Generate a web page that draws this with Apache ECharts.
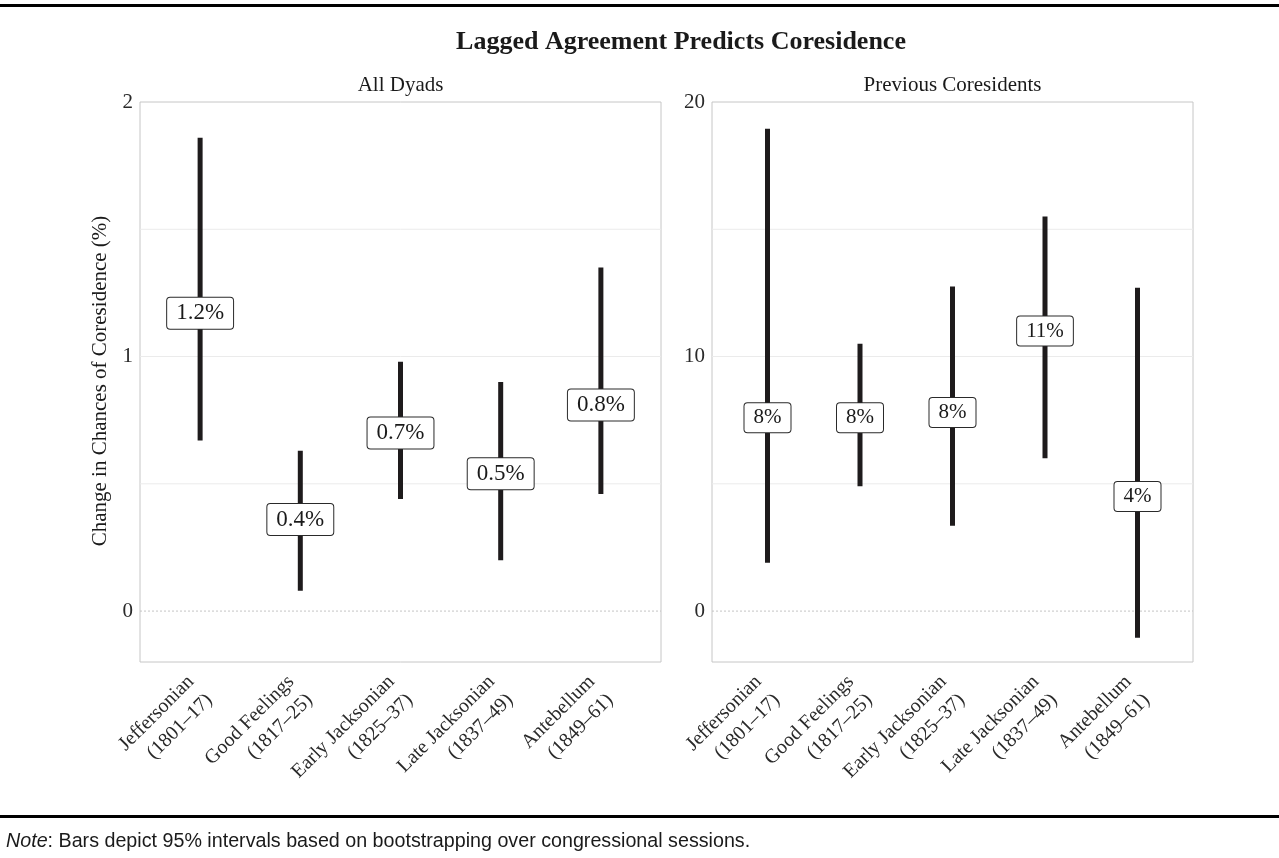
<!DOCTYPE html>
<html>
<head>
<meta charset="utf-8">
<script src="https://cdn.jsdelivr.net/npm/echarts@6/dist/echarts.min.js"></script>
<style>
html,body{margin:0;padding:0;background:#fff;}
#chart{width:1279px;height:858px;}
</style>
</head>
<body>
<div id="chart"></div>
<script>
// ---- data ----
const categories = ['Jeffersonian\n(1801–17)', 'Good Feelings\n(1817–25)', 'Early Jacksonian\n(1825–37)', 'Late Jacksonian\n(1837–49)', 'Antebellum\n(1849–61)'];
const catPos = [1, 2, 3, 4, 5];

const allEst = [1.17, 0.36, 0.70, 0.54, 0.81];
const allLow = [0.67, 0.08, 0.44, 0.20, 0.46];
const allHigh = [1.86, 0.63, 0.98, 0.90, 1.35];
const allLabels = ['1.2%', '0.4%', '0.7%', '0.5%', '0.8%'];

const prevEst = [7.6, 7.6, 7.8, 11.0, 4.5];
const prevLow = [1.9, 4.9, 3.35, 6.0, -1.05];
const prevHigh = [18.95, 10.5, 12.75, 15.5, 12.7];
const prevLabels = ['8%', '8%', '8%', '11%', '4%'];

const allTicks = [0, 1, 2];
const allGrid = [0.5, 1, 1.5];
const prevTicks = [0, 10, 20];
const prevGrid = [5, 10, 15];

const serif = 'Liberation Serif';
const chart = echarts.init(document.getElementById('chart'));

function xAxisDef(gi) {
  return {
    type: 'value', gridIndex: gi, min: 0.4, max: 5.6,
    axisLine: {show: false}, axisTick: {show: false}, splitLine: {show: false},
    axisLabel: {
      customValues: catPos,
      formatter: v => categories[Math.round(v) - 1],
      rotate: 45, align: 'right', verticalAlign: 'middle', margin: 26,
      fontFamily: serif, fontSize: 20, lineHeight: 26, color: '#2a2a2a'
    }
  };
}
function yAxisDef(gi, min, max, ticks) {
  return {
    type: 'value', gridIndex: gi, min: min, max: max,
    axisLine: {show: false}, axisTick: {show: false}, splitLine: {show: false},
    axisLabel: {customValues: ticks, margin: 7, fontFamily: serif, fontSize: 21, color: '#2a2a2a'}
  };
}
function gridSeries(gi, vals) {
  return {
    type: 'custom', xAxisIndex: gi, yAxisIndex: gi, z: 1, silent: true,
    data: vals.map(v => [v]),
    renderItem: (params, api) => {
      const v = api.value(0);
      const a = api.coord([0.4, v]), b = api.coord([5.6, v]);
      return {type: 'line', shape: {x1: a[0], y1: a[1], x2: b[0], y2: b[1]},
        style: {stroke: '#ebebeb', lineWidth: 1}};
    }
  };
}
function zeroSeries(gi) {
  return {
    type: 'custom', xAxisIndex: gi, yAxisIndex: gi, z: 1, silent: true,
    data: [[0]],
    renderItem: (params, api) => {
      const v = api.value(0);
      const a = api.coord([0.4, v]), b = api.coord([5.6, v]);
      return {type: 'line', shape: {x1: a[0], y1: a[1], x2: b[0], y2: b[1]},
        style: {stroke: '#c4c4c4', lineWidth: 1, lineDash: [2, 2]}};
    }
  };
}
function barSeries(gi, low, high) {
  return {
    type: 'custom', xAxisIndex: gi, yAxisIndex: gi, z: 2, silent: true,
    data: catPos.map((x, i) => [x, low[i], high[i]]),
    renderItem: (params, api) => {
      const x = api.value(0);
      const p1 = api.coord([x, api.value(1)]), p2 = api.coord([x, api.value(2)]);
      return {type: 'line', shape: {x1: p1[0], y1: p1[1], x2: p2[0], y2: p2[1]},
        style: {stroke: '#1e1b1c', lineWidth: 5}};
    }
  };
}
function labelSeries(gi, est, labels, fs) {
  return {
    type: 'custom', xAxisIndex: gi, yAxisIndex: gi, z: 3, silent: true,
    data: catPos.map((x, i) => [x, est[i]]),
    renderItem: (params, api) => {
      const p = api.coord([api.value(0), api.value(1)]);
      return {
        type: 'text', x: p[0], y: p[1], z2: 10,
        style: {
          text: labels[params.dataIndex],
          fontFamily: serif, fontSize: fs, lineHeight: fs, fill: '#1a1a1a',
          align: 'center', verticalAlign: 'middle',
          textAlign: 'center', textVerticalAlign: 'middle',
          backgroundColor: '#ffffff', borderColor: '#2a2a2a', borderWidth: 1,
          borderRadius: 3, padding: [4, 9, 4, 9], opacity: 1
        }
      };
    }
  };
}

chart.setOption({
  animation: false,
  grid: [
    {left: 140, right: 1279 - 661, top: 102, bottom: 858 - 662, show: true, borderColor: '#c6c6c6', borderWidth: 1, backgroundColor: 'transparent'},
    {left: 712, right: 1279 - 1193, top: 102, bottom: 858 - 662, show: true, borderColor: '#c6c6c6', borderWidth: 1, backgroundColor: 'transparent'}
  ],
  xAxis: [xAxisDef(0), xAxisDef(1)],
  yAxis: [yAxisDef(0, -0.2, 2, allTicks), yAxisDef(1, -2, 20, prevTicks)],
  series: [
    gridSeries(0, allGrid), zeroSeries(0), barSeries(0, allLow, allHigh), labelSeries(0, allEst, allLabels, 23),
    gridSeries(1, prevGrid), zeroSeries(1), barSeries(1, prevLow, prevHigh), labelSeries(1, prevEst, prevLabels, 21)
  ],
  graphic: [
    {type: 'rect', shape: {x: 0, y: 4, width: 1279, height: 3}, style: {fill: '#000'}},
    {type: 'rect', shape: {x: 0, y: 815, width: 1279, height: 3}, style: {fill: '#000'}},
    {type: 'text', x: 681, y: 42, style: {text: 'Lagged Agreement Predicts Coresidence', fontFamily: serif, fontWeight: 'bold', fontSize: 26, fill: '#1a1a1a', textAlign: 'center', textVerticalAlign: 'middle'}},
    {type: 'text', x: 400.5, y: 85, style: {text: 'All Dyads', fontFamily: serif, fontSize: 21, fill: '#1a1a1a', textAlign: 'center', textVerticalAlign: 'middle'}},
    {type: 'text', x: 952.5, y: 85, style: {text: 'Previous Coresidents', fontFamily: serif, fontSize: 21, fill: '#1a1a1a', textAlign: 'center', textVerticalAlign: 'middle'}},
    {type: 'text', x: 100, y: 381, rotation: Math.PI / 2, style: {text: 'Change in Chances of Coresidence (%)', fontFamily: serif, fontSize: 21, fill: '#1a1a1a', textAlign: 'center', textVerticalAlign: 'middle'}},
    {type: 'text', x: 6, y: 842, style: {
      text: '{i|Note}: Bars depict 95% intervals based on bootstrapping over congressional sessions.',
      fontFamily: 'Liberation Sans', fontSize: 19.7, fill: '#1a1a1a', textAlign: 'left', textVerticalAlign: 'middle',
      rich: {i: {fontStyle: 'italic', fontFamily: 'Liberation Sans', fontSize: 19.7, fill: '#1a1a1a'}}
    }}
  ]
});
</script>
</body>
</html>
